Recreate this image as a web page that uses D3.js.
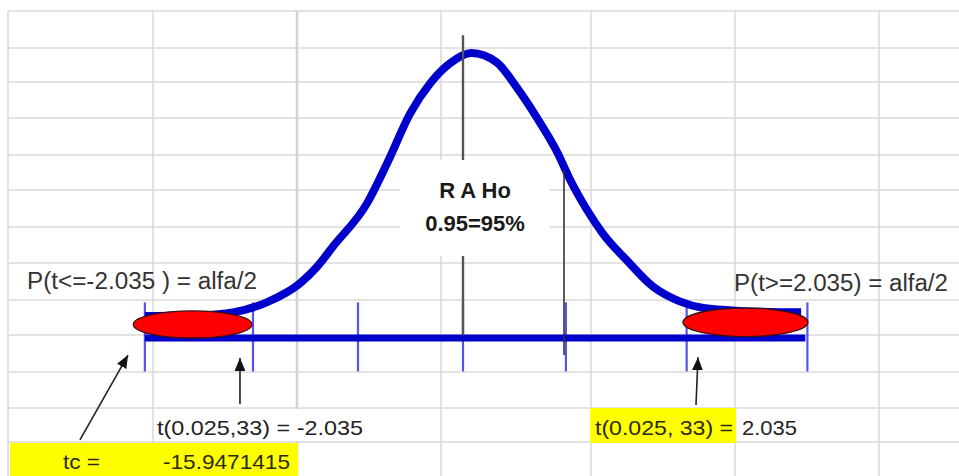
<!DOCTYPE html>
<html>
<head>
<meta charset="utf-8">
<script src="https://cdn.jsdelivr.net/npm/d3@7/dist/d3.min.js"></script>
<style>
  html, body { margin: 0; padding: 0; background: #ffffff; }
  svg { display: block; }
</style>
</head>
<body>
<div id="chart"></div>
<script>
// ---------------- DATA ----------------
// t-distribution curve (t value, density)
const tValues = [-3.03, -2.50, -2.19, -1.87, -1.55, -1.39, -1.24, -0.91, -0.72, -0.50, -0.31, -0.12, 0.08, 0.32, 0.51, 0.70, 0.90, 1.02, 1.18, 1.33, 1.56, 1.81, 2.07, 2.29, 2.64, 3.22];
const density = [0.031, 0.032, 0.036, 0.050, 0.077, 0.100, 0.128, 0.190, 0.246, 0.316, 0.358, 0.386, 0.400, 0.387, 0.352, 0.310, 0.260, 0.222, 0.180, 0.147, 0.109, 0.072, 0.051, 0.042, 0.038, 0.036];
// horizontal t axis extent and its tick marks
const axisExtent = [-3.03, 3.26];
const tickValues = [-3.03, -2.0, -1.0, 0, 0.98, 2.13, 3.28];
// rejection tails (t from, t to, centre density, half height)
const tailFrom = [-3.14, 2.095];
const tailTo = [-2.01, 3.285];
const tailMid = [0.019, 0.022];
const tailHalf = [0.019, 0.020];
// centre line and critical value line: [t, top density, bottom density]
const centreLine = [0, 0.425, 0.004];
const criticalLine = [0.962, 0.236, -0.024];
// arrows: [t0, d0, t1, d1]
const arrows = [
  [-3.648, -0.143, -3.19, -0.024],
  [-2.124, -0.093, -2.124, -0.028],
  [2.219, -0.094, 2.238, -0.027]
];
// texts
const labelLeftTail = "P(t<=-2.035 ) = alfa/2";
const labelRightTail = "P(t>=2.035) = alfa/2";
const labelCritLeft = "t(0.025,33) = -2.035";
const labelCritRightA = "t(0.025, 33) =";
const labelCritRightB = "2.035";
const labelRegion = ["R A Ho", "0.95=95%"];
const labelTcName = "tc =";
const labelTcValue = "-15.9471415";

// ---------------- LAYOUT ----------------
const W = 959, H = 476;
const colEdges = [8, 153, 297, 441, 591, 735, 879];
const rowEdges = [11, 48, 82, 118, 155, 190, 227, 263, 300, 335, 372, 408, 442];

const svg = d3.select("#chart").append("svg")
  .attr("width", W).attr("height", H)
  .attr("viewBox", `0 0 ${W} ${H}`);

svg.append("rect").attr("width", W).attr("height", H).attr("fill", "#ffffff");

// spreadsheet grid
const grid = svg.append("g");
grid.selectAll("line.h").data(rowEdges).join("line")
  .attr("x1", colEdges[0]).attr("x2", W)
  .attr("y1", d => d).attr("y2", d => d)
  .attr("stroke", "#dadada").attr("stroke-width", 1.6);
grid.selectAll("line.v").data(colEdges).join("line")
  .attr("x1", d => d).attr("x2", d => d)
  .attr("y1", rowEdges[0]).attr("y2", H)
  .attr("stroke", (d, i) => i === 2 ? "#d2d2d2" : "#dadada")
  .attr("stroke-width", (d, i) => i === 2 ? 2.6 : 1.6);

// cells where text overflows hide the vertical gridline
svg.append("rect").attr("x", colEdges[2] - 3).attr("y", rowEdges[11] + 1)
  .attr("width", 6).attr("height", rowEdges[12] - rowEdges[11] - 2).attr("fill", "#fff");
svg.append("rect").attr("x", colEdges[5] - 2).attr("y", rowEdges[11] + 1)
  .attr("width", 4).attr("height", rowEdges[12] - rowEdges[11] - 2).attr("fill", "#fff");

// scales
const x = d3.scaleLinear().domain([-3, 3]).range([463 - 315, 463 + 315]);
const y = d3.scaleLinear().domain([0, 0.4]).range([338, 53]);

const blue = "#0000cc";

// tick marks (light blue)
svg.append("g").selectAll("line").data(tickValues).join("line")
  .attr("x1", d => x(d)).attr("x2", d => x(d))
  .attr("y1", y(0.05)).attr("y2", y(-0.047))
  .attr("stroke", "#5555ee").attr("stroke-width", 2.2);

// horizontal axis line
svg.append("line")
  .attr("x1", x(axisExtent[0])).attr("x2", x(axisExtent[1]))
  .attr("y1", y(0)).attr("y2", y(0))
  .attr("stroke", blue).attr("stroke-width", 7);

// curve
const pts = tValues.map((t, i) => [t, density[i]]);
svg.append("path").datum(pts)
  .attr("d", d3.line().x(d => x(d[0])).y(d => y(d[1])).curve(d3.curveMonotoneX))
  .attr("fill", "none").attr("stroke", blue).attr("stroke-width", 8)
  .attr("stroke-linecap", "butt").attr("stroke-linejoin", "round");

// centre line & critical line
svg.append("line")
  .attr("x1", x(centreLine[0])).attr("x2", x(centreLine[0]))
  .attr("y1", y(centreLine[1])).attr("y2", y(centreLine[2]))
  .attr("stroke", "#555").attr("stroke-width", 2.4);
svg.append("line")
  .attr("x1", x(criticalLine[0])).attr("x2", x(criticalLine[0]))
  .attr("y1", y(criticalLine[1])).attr("y2", y(criticalLine[2]))
  .attr("stroke", "#333").attr("stroke-width", 1.6);

// tail ellipses
svg.append("g").selectAll("ellipse").data(tailFrom).join("ellipse")
  .attr("cx", (d, i) => (x(d) + x(tailTo[i])) / 2)
  .attr("cy", (d, i) => y(tailMid[i]))
  .attr("rx", (d, i) => (x(tailTo[i]) - x(d)) / 2)
  .attr("ry", (d, i) => y(0) - y(tailHalf[i]))
  .attr("fill", "#ff0000").attr("stroke", "#3a1010").attr("stroke-width", 1.3);

// region text box
svg.append("rect").attr("x", 400).attr("y", 160).attr("width", 150).attr("height", 96)
  .attr("fill", "#ffffff");
svg.append("text").attr("x", 475).attr("y", 198).attr("text-anchor", "middle")
  .attr("font-family", "Liberation Sans, Arial, sans-serif").attr("font-weight", "bold")
  .attr("font-size", 22).attr("fill", "#1a1a1a").text(labelRegion[0]);
svg.append("text").attr("x", 475).attr("y", 231).attr("text-anchor", "middle")
  .attr("font-family", "Liberation Sans, Arial, sans-serif").attr("font-weight", "bold")
  .attr("font-size", 22).attr("fill", "#1a1a1a").text(labelRegion[1]);

// arrows
const defs = svg.append("defs");
defs.append("marker").attr("id", "ah")
  .attr("viewBox", "0 0 12 10").attr("refX", 12).attr("refY", 5)
  .attr("markerWidth", 13).attr("markerHeight", 11)
  .attr("markerUnits", "userSpaceOnUse").attr("orient", "auto")
  .append("path").attr("d", "M0,0 L12,5 L0,10 Z").attr("fill", "#111");
svg.append("g").selectAll("line").data(arrows).join("line")
  .attr("x1", d => x(d[0])).attr("y1", d => y(d[1]))
  .attr("x2", d => x(d[2])).attr("y2", d => y(d[3]))
  .attr("stroke", "#222").attr("stroke-width", 1.6)
  .attr("marker-end", "url(#ah)");

// yellow highlights
svg.append("rect").attr("x", 10).attr("y", 443).attr("width", 288).attr("height", H - 443)
  .attr("fill", "#ffff00");
svg.append("rect").attr("x", 590).attr("y", 408).attr("width", 146).attr("height", 35)
  .attr("fill", "#ffff00");

// labels
const font = "Liberation Sans, Arial, sans-serif";
function label(txt, xx, yy, size, len, color) {
  const t = svg.append("text").attr("x", xx).attr("y", yy)
    .attr("font-family", font).attr("font-size", size)
    .attr("fill", color || "#2a2a2a").text(txt);
  if (len) t.attr("textLength", len).attr("lengthAdjust", "spacingAndGlyphs");
  return t;
}
label(labelLeftTail, 27, 289, 23, 230, "#333");
label(labelRightTail, 734, 291, 23, 214, "#333");
label(labelCritLeft, 157, 435, 21, 206, "#222");
label(labelCritRightA, 595, 435, 21, 138, "#2a2a10");
label(labelCritRightB, 742, 435, 21, 55, "#222");
label(labelTcName, 63, 469, 21, 37, "#2a2a10");
label(labelTcValue, 163, 469, 21, 127, "#2a2a10");
</script>
</body>
</html>
